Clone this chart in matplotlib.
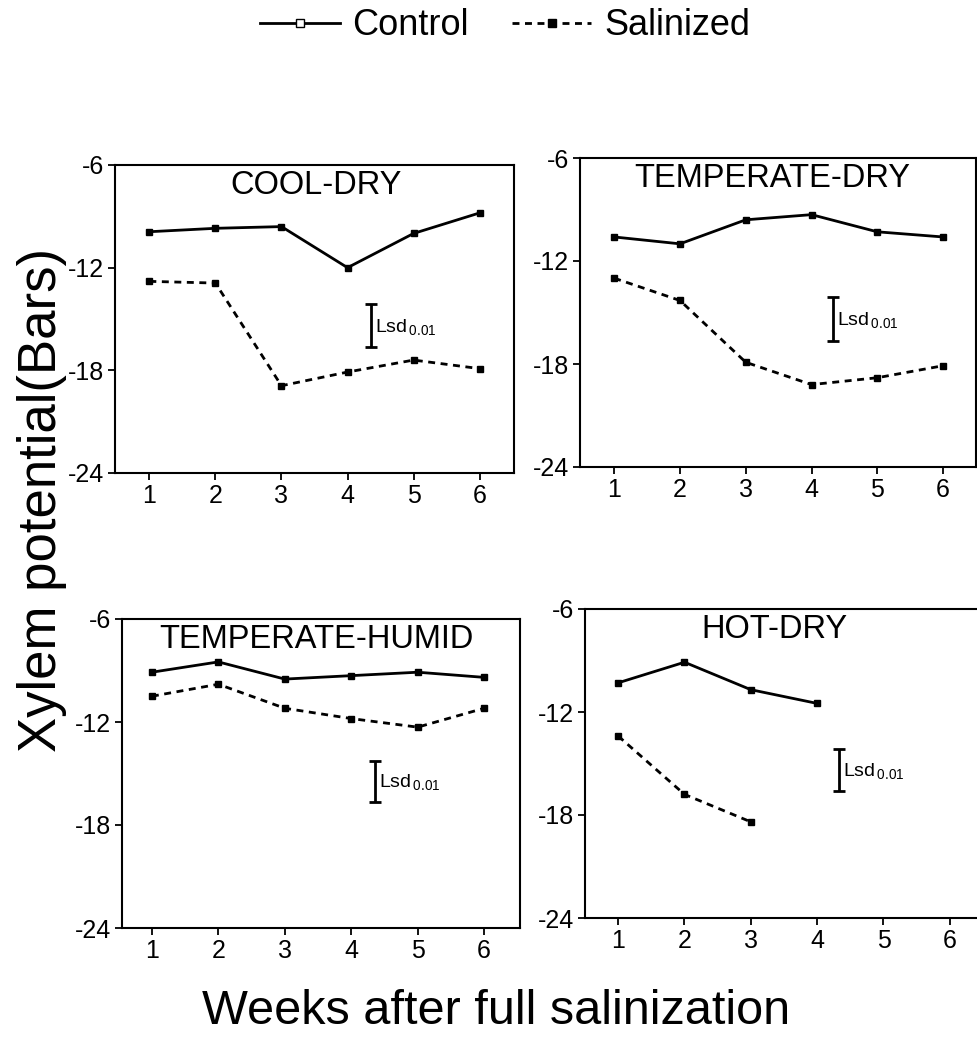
import numpy as np
import matplotlib.pyplot as plt
from matplotlib.lines import Line2D

plt.rcParams['font.family'] = ['Liberation Sans', 'DejaVu Sans']
plt.rcParams['axes.unicode_minus'] = False

# data (xylem potential, bars)
weeks = [1, 2, 3, 4, 5, 6]
panel_names = ['COOL-DRY', 'TEMPERATE-DRY', 'TEMPERATE-HUMID', 'HOT-DRY']
cool_dry_control = [-9.9, -9.7, -9.6, -12.0, -10.0, -8.8]
cool_dry_salt = [-12.8, -12.9, -18.9, -18.1, -17.4, -17.9]
temp_dry_control = [-10.6, -11.0, -9.6, -9.3, -10.3, -10.6]
temp_dry_salt = [-13.0, -14.3, -17.9, -19.2, -18.8, -18.1]
temp_humid_control = [-9.1, -8.5, -9.5, -9.3, -9.1, -9.4]
temp_humid_salt = [-10.5, -9.8, -11.2, -11.8, -12.3, -11.2]
hot_dry_control = [-10.3, -9.1, -10.7, -11.5]
hot_dry_salt = [-13.4, -16.8, -18.4]
lsd_low = [-16.65, -16.65, -16.65, -16.6]
lsd_high = [-14.15, -14.1, -14.25, -14.15]
yticks = [-24, -18, -12, -6]

controls = [cool_dry_control, temp_dry_control, temp_humid_control, hot_dry_control]
salts = [cool_dry_salt, temp_dry_salt, temp_humid_salt, hot_dry_salt]

W, H = 978, 1057
fig = plt.figure(figsize=(W / 100, H / 100), dpi=100)

# axes boxes in pixels: left, top, right, bottom
boxes = [(115, 165, 514, 473), (580, 158, 976, 467),
         (122, 619, 520, 928), (585, 609, 983, 918)]
xlims = [(0.48, 6.52), (0.48, 6.5), (0.55, 6.54), (0.5, 6.5)]
title_x = [3.52, 3.40, 3.47, 3.36]
lsd_x = [4.36, 4.32, 4.36, 4.33]

for i in range(4):
    l, t, r, b = boxes[i]
    ax = fig.add_axes([l / W, 1 - b / H, (r - l) / W, (b - t) / H])
    c = controls[i]
    s = salts[i]
    ax.plot(weeks[:len(c)], c, color='black', lw=2, marker='s', ms=4.5,
            mfc='black', mec='black')
    ax.plot(weeks[:len(s)], s, color='black', lw=2, ls=(0, (2.5, 2)),
            marker='s', ms=5, mfc='black', mec='black')
    ax.errorbar([lsd_x[i]], [(lsd_low[i] + lsd_high[i]) / 2],
                yerr=[(lsd_high[i] - lsd_low[i]) / 2], color='black',
                lw=2, capsize=4, capthick=2)
    ax.text(lsd_x[i] + 0.06, (lsd_low[i] + lsd_high[i]) / 2 - 0.1,
            r'Lsd$_{\mathregular{\,0.01}}$', fontsize=14, va='center',
            ha='left')
    ax.text(title_x[i], 0.935, panel_names[i], transform=ax.get_xaxis_transform(),
            ha='center', va='center', fontsize=23.5)
    ax.set_xlim(*xlims[i])
    ax.set_ylim(-24, -6)
    ax.set_xticks(weeks)
    ax.set_yticks(yticks)
    ax.tick_params(direction='out', length=5, width=1.3, labelsize=18, pad=3)
    for sp in ax.spines.values():
        sp.set_linewidth(1.5)

fig.text(42 / W, 1 - 500 / H, 'Xylem potential(Bars)', rotation=90,
         ha='center', va='center', fontsize=38)
fig.text(496 / W, 1 - 1012 / H, 'Weeks after full salinization',
         ha='center', va='center', fontsize=35)

handles = [Line2D([], [], color='black', lw=2, marker='s', ms=6,
                  mfc='white', mec='black'),
           Line2D([], [], color='black', lw=2, ls=(0, (2.5, 2)), marker='s',
                  ms=6, mfc='black', mec='black')]
fig.legend(handles, ['Control', 'Salinized'], loc='center', ncol=2,
           bbox_to_anchor=(505 / W, 1 - 26 / H), frameon=False, fontsize=26,
           handlelength=2.2, handletextpad=0.35, columnspacing=1.2)

fig.savefig('out.png', dpi=100)
